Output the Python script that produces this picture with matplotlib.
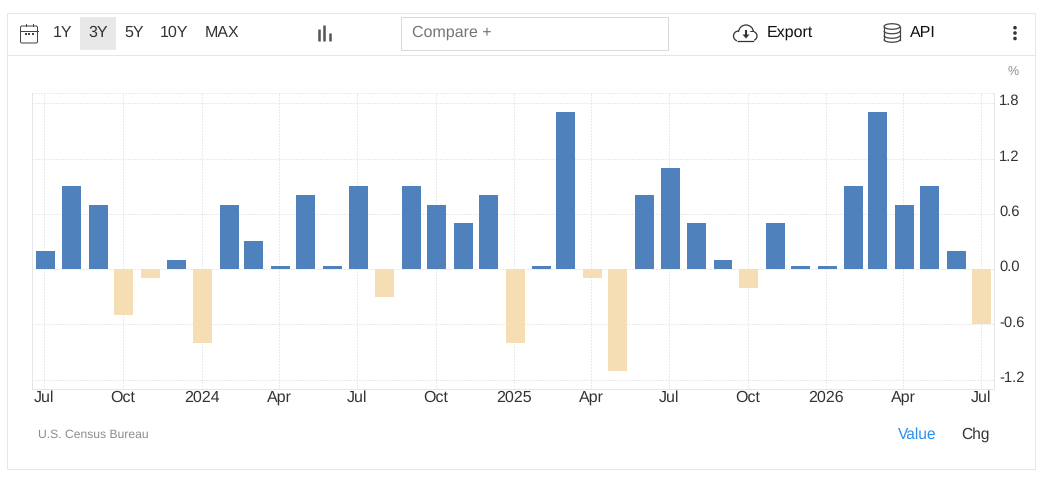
import matplotlib
matplotlib.use('Agg')
import matplotlib.pyplot as plt
import matplotlib.dates as mdates
from datetime import date, timedelta
from matplotlib.patches import Rectangle, FancyBboxPatch, Ellipse, Circle, Polygon, Arc
from matplotlib.transforms import ScaledTranslation

plt.rcParams['font.family'] = ['Liberation Sans', 'DejaVu Sans']
plt.rcParams['text.hinting'] = 'no_hinting'

W = 1047
H = 478

# Data
values = [0.2, 0.9, 0.7, -0.5, -0.1, 0.1, -0.8, 0.7, 0.3, 0.03, 0.8, 0.03, 0.9,
          -0.3, 0.9, 0.7, 0.5, 0.8, -0.8, 0.03, 1.7, -0.1, -1.1, 0.8, 1.1, 0.5,
          0.1, -0.2, 0.5, 0.03, 0.03, 0.9, 1.7, 0.7, 0.9, 0.2, -0.6]
x_labels = ['Jul', 'Oct', '2024', 'Apr', 'Jul', 'Oct', '2025', 'Apr', 'Jul', 'Oct', '2026', 'Apr', 'Jul']
y_ticks = [1.8, 1.2, 0.6, 0.0, -0.6, -1.2]
ranges = ['1Y', '3Y', '5Y', '10Y', 'MAX']

POS = '#4f81bd'
NEG = '#f5deb3'
BORDER = '#e6e6e6'
GRID = '#d6d6d6'
TEXT = '#333333'
LW = 0.72  # one pixel at dpi 100

fig = plt.figure(figsize=(W / 100, H / 100), dpi=100, facecolor='white')

# overlay in pixel coordinates for the toolbar and frame
bg = fig.add_axes([0, 0, 1, 1])
bg.set_xlim(0, W)
bg.set_ylim(H, 0)
bg.axis('off')

bg.add_patch(Rectangle((7, 13), 1028, 456, fill=False, ec=BORDER, lw=LW))
bg.plot([7, 1035], [55, 55], color=BORDER, lw=LW)
bg.add_patch(Rectangle((80, 17), 36, 33, fc='#e8e8e8', ec='none'))
bg.add_patch(Rectangle((401, 17), 267, 33, fill=False, ec='#d9d9d9', lw=LW))

# calendar icon
bg.add_patch(FancyBboxPatch((20.5, 26), 17, 17, boxstyle='round,pad=0,rounding_size=1.5',
                            fill=False, ec='#444444', lw=LW))
bg.plot([20.5, 37.5], [30.5, 30.5], color='#444444', lw=LW)
bg.plot([25.5, 25.5], [23.5, 26], color='#444444', lw=LW)
bg.plot([33, 33], [23.5, 26], color='#444444', lw=LW)
for dot in [25.5, 29, 32.5]:
    bg.add_patch(Rectangle((dot - 1, 33), 2, 1.6, fc='#444444', ec='none'))

for lab, cx in zip(ranges, [62.5, 98, 134, 174.5, 222.5]):
    bg.text(cx, 33, lab, ha='center', va='center', fontsize=11.5, color=TEXT)

# bar chart icon
for bx, top in zip([318.7, 324, 329.7], [29, 25, 33]):
    bg.plot([bx, bx], [top, 40.7], color='#555555', lw=1.8, solid_capstyle='butt')

bg.text(412, 32.5, 'Compare +', ha='left', va='center', fontsize=11.5, color='#757575')

# cloud icon
for (cx, cy, r) in [(738.5, 36, 5), (746, 32.5, 7.5), (752.5, 36, 4.5)]:
    bg.add_patch(Circle((cx, cy), r, fc='white', ec='#333333', lw=0.9))
bg.add_patch(Rectangle((737, 31.5), 17, 9, fc='white', ec='none', zorder=3))
bg.plot([738, 753], [41, 41], color='#333333', lw=0.9, zorder=4)
bg.add_patch(Polygon([[742.5, 34.5], [749.5, 34.5], [746, 38.5]], fc='#333333', ec='none', zorder=4))
bg.plot([746, 746], [31, 35], color='#333333', lw=1.5, zorder=4)
bg.text(766.5, 33, 'Export', ha='left', va='center', fontsize=11.5, color='#111111')

# database icon
bg.add_patch(Ellipse((892, 26.5), 16, 5.5, fill=False, ec='#444444', lw=0.9))
bg.plot([884, 884], [26.5, 39.5], color='#444444', lw=0.9)
bg.plot([900, 900], [26.5, 39.5], color='#444444', lw=0.9)
for cy in [31, 35.5, 39.5]:
    bg.add_patch(Arc((892, cy), 16, 5.5, theta1=0, theta2=180, ec='#444444', lw=0.9))
bg.text(910, 33, 'API', ha='left', va='center', fontsize=11.5, color='#111111')

# menu dots
for cy in [27.7, 33, 38.5]:
    bg.add_patch(Circle((1015, cy), 1.8, fc='#333333', ec='none'))

bg.text(1013.5, 71.5, '%', ha='center', va='center', fontsize=9, color='#8c8c8c')
bg.text(38, 435, 'U.S. Census Bureau', ha='left', va='center', fontsize=8.7, color='#8c8c8c')
bg.text(917.7, 434.5, 'Value', ha='center', va='center', fontsize=11.2, color='#2b8fef')
bg.text(975.7, 434.5, 'Chg', ha='center', va='center', fontsize=11.2, color=TEXT)

# plot area
left, right, top, bottom = 32, 994, 93, 389
ax = fig.add_axes([left / W, 1 - bottom / H, (right - left) / W, (bottom - top) / H])
ax.patch.set_alpha(0)

months = []
for i in range(len(values)):
    m = 6 + i
    months.append(date(2023 + m // 12, m % 12 + 1, 1))
days = mdates.date2num(months)
# bars sit about a pixel right of their grid line
bar_x = mdates.date2num([d + timedelta(days=1) for d in months])

colors = [POS if v >= 0 else NEG for v in values]
ax.bar(bar_x, values, width=22.2, color=colors, zorder=3)

px_day = 0.8546
px_unit = 92.2
x0 = 44.45
y0 = 269.15
ax.set_xlim(days[0] + (left - x0) / px_day, days[0] + (right - x0) / px_day)
ax.set_ylim((y0 - bottom) / px_unit, (y0 - top) / px_unit)

ax.set_xticks(days[::3])
ax.set_xticklabels(x_labels)
ax.set_yticks(y_ticks)
ax.set_yticklabels(['%.1f' % t for t in y_ticks])
ax.yaxis.tick_right()
ax.tick_params(axis='x', length=0, pad=1, labelsize=11.5, labelcolor=TEXT)
ax.tick_params(axis='y', length=0, pad=3.6, labelsize=10.6, labelcolor=TEXT)
up = ScaledTranslation(0, 3.3 / 72 * 0.72, fig.dpi_scale_trans)
for lab in ax.get_yticklabels():
    lab.set_transform(lab.get_transform() + up)
ax.grid(True, color=GRID, lw=LW, ls=(0, (1, 2)), zorder=0)
ax.set_axisbelow(True)

for side in ['left', 'bottom', 'right']:
    ax.spines[side].set_color(BORDER)
    ax.spines[side].set_linewidth(LW)
ax.spines['top'].set_visible(False)
ax.plot([0, 1], [1, 1], transform=ax.transAxes, color=GRID, lw=LW, ls=(0, (1, 2)), clip_on=False)

fig.savefig('out.png', dpi=100)
